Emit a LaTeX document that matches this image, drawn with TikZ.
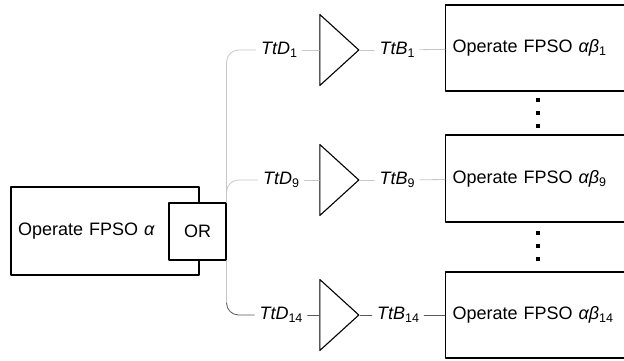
\documentclass[tikz,border=0pt]{standalone}
\usepackage{fontspec}
\setmainfont{Liberation Sans}
\usetikzlibrary{shapes.geometric}

\newcommand{\lowidx}[1]{\raisebox{-0.35ex}{\fontsize{12.5}{14}\selectfont #1}}

\tikzset{
  opbox/.style={draw,line width=1.1pt,fill=white,inner xsep=7pt,inner ysep=0pt,align=left},
  orbox/.style={draw,line width=1.1pt,fill=white,minimum size=57pt,inner sep=0pt},
  tri/.style={draw,line width=1.1pt,isosceles triangle,isosceles triangle stretches,
    minimum width=71pt,minimum height=39pt,inner sep=0pt},
  tag/.style={inner xsep=5pt,inner ysep=2pt},
  link/.style={line width=0.8pt,black!22},
  linkdark/.style={line width=0.8pt,black!65}
}

\begin{document}
\begin{tikzpicture}[x=1pt,y=-1pt,line cap=round,line join=round,font=\fontsize{18}{22}\selectfont]
  \useasboundingbox (0,0) rectangle (624,360);
  % left activity and its OR junction
  \node[opbox,minimum width=188pt,minimum height=88pt,text width=174pt] (fpso) at (105,231) {Operate FPSO \textit{α}};
  \node[orbox] (or) at (197.5,231.5) {OR};
  % branches
  \node[tag] (d1) at (279,50) {\textit{TtD}\lowidx{1}};
  \node[tag] (d9) at (281,180) {\textit{TtD}\lowidx{9}};
  \node[tag] (d14) at (281,315) {\textit{TtD}\lowidx{14}};
  \node[tri] (g1) at (335.5,50) {};
  \node[tri] (g9) at (335.5,180) {};
  \node[tri] (g14) at (335.5,315) {};
  \node[tag] (b1) at (397,50) {\textit{TtB}\lowidx{1}};
  \node[tag] (b9) at (397,180) {\textit{TtB}\lowidx{9}};
  \node[tag] (b14) at (398,315) {\textit{TtB}\lowidx{14}};
  % right activities (cut by the page edge)
  \node[opbox,anchor=west,minimum width=200pt,minimum height=86pt,text width=186pt] (op1) at (445,48) {Operate FPSO \textit{αβ}\lowidx{1}};
  \node[opbox,anchor=west,minimum width=200pt,minimum height=87pt,text width=186pt] (op9) at (445,178.5) {Operate FPSO \textit{αβ}\lowidx{9}};
  \node[opbox,anchor=west,minimum width=200pt,minimum height=86pt,text width=186pt] (op14) at (445,315) {Operate FPSO \textit{αβ}\lowidx{14}};
  % connectors
  \draw[link,rounded corners=12pt] (or.north east) |- (d1);
  \draw[link,rounded corners=12pt] (or.north east) |- (d9);
  \draw[link,rounded corners=12pt] (or.south east) -- ++(0,42) coordinate (bend);
  \draw[linkdark,rounded corners=12pt] ([yshift=-1]bend) |- (d14);
  \draw[link] (d1) -- (g1);
  \draw[link] (g1) -- (b1);
  \draw[link] (b1) -- (op1);
  \draw[link] (d9) -- (g9);
  \draw[link] (g9) -- (b9);
  \draw[link] (b9) -- (op9);
  \draw[linkdark] (d14) -- (g14);
  \draw[linkdark] (g14) -- (b14);
  \draw[linkdark] (b14) -- (op14);
  % omitted branches
  \foreach \y in {100,113,126,233,246,259}
    \fill (538,\y) ++(-2.2,-2.2) rectangle ++(4.4,4.4);
\end{tikzpicture}
\end{document}
